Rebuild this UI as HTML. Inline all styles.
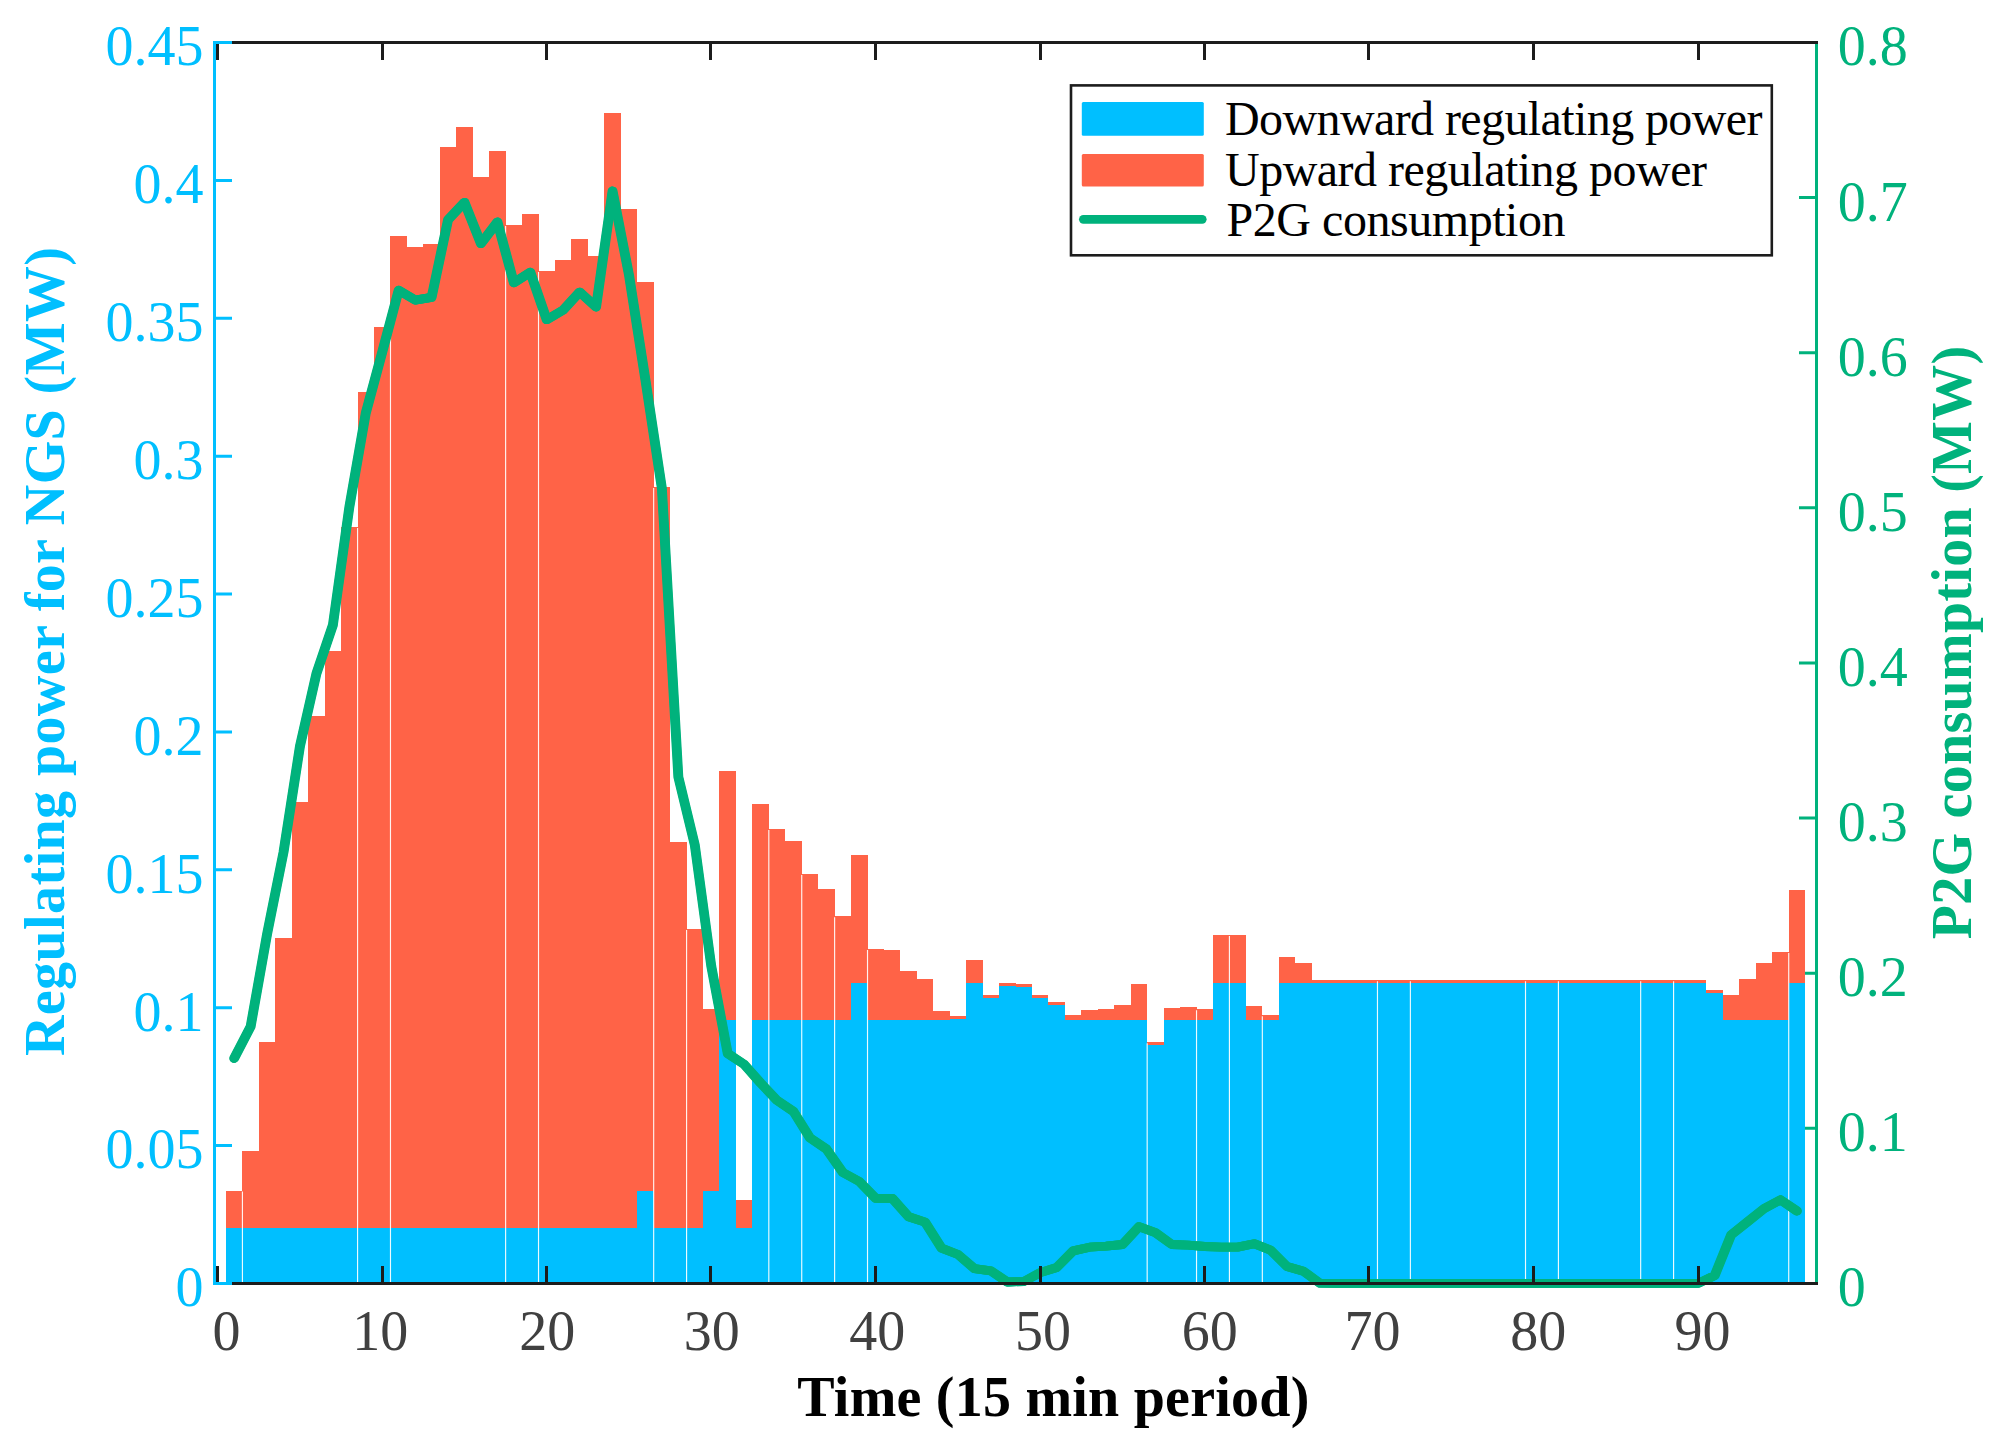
<!DOCTYPE html>
<html lang="en"><head><meta charset="utf-8"><title>Regulating power for NGS and P2G consumption</title>
<style>
html,body{margin:0;padding:0;background:#fff;}
body{width:1997px;height:1445px;overflow:hidden;}
svg{display:block;}
text{font-family:"Liberation Serif",serif;}
.tk{font-size:56px;}
.lb{font-size:56px;font-weight:bold;}
.lg{font-size:48px;fill:#000;}
</style></head><body>
<svg width="1997" height="1445" viewBox="0 0 1997 1445" role="img" aria-label="Regulating power for NGS and P2G consumption over 96 fifteen-minute periods">
<rect x="0" y="0" width="1997" height="1445" fill="#fff"/>
<g stroke="#00B27C" stroke-width="3" fill="none">
<path d="M1816.5 41V1284.9"/>
<path d="M1816.5 1283.4H1799M1816.5 1128.29H1799M1816.5 973.18H1799M1816.5 818.06H1799M1816.5 662.95H1799M1816.5 507.84H1799M1816.5 352.73H1799M1816.5 197.61H1799M1816.5 42.5H1799"/>
</g>
<g shape-rendering="crispEdges">
<path fill="#FF6347" d="M225.97 1190.5H242.43V1228.3H225.97ZM242.43 1151H258.88V1228.3H242.43ZM258.88 1041.9H275.32V1228.3H258.88ZM275.32 938.1H291.77V1228.3H275.32ZM291.77 801.9H308.23V1228.3H291.77ZM308.23 715.9H324.68V1228.3H308.23ZM324.68 651.2H341.12V1228.3H324.68ZM341.12 527H357.57V1228.3H341.12ZM357.57 392H374.02V1228.3H357.57ZM374.02 326.9H390.48V1228.3H374.02ZM390.48 236.1H406.92V1228.3H390.48ZM406.92 246.9H423.38V1228.3H406.92ZM423.38 243.9H439.82V1228.3H423.38ZM439.82 147.1H456.27V1228.3H439.82ZM456.27 127H472.73V1228.3H456.27ZM472.73 177H489.18V1228.3H472.73ZM489.18 151.2H505.62V1228.3H489.18ZM505.62 224.9H522.08V1228.3H505.62ZM522.08 213.9H538.52V1228.3H522.08ZM538.52 270.9H554.97V1228.3H538.52ZM554.97 259.9H571.42V1228.3H554.97ZM571.42 239H587.88V1228.3H571.42ZM587.88 256.1H604.33V1228.3H587.88ZM604.33 113H620.77V1228.3H604.33ZM620.77 208.9H637.22V1228.3H620.77ZM637.22 282H653.67V1190.6H637.22ZM653.67 487.1H670.12V1228.3H653.67ZM670.12 842.4H686.58V1228.3H670.12ZM686.58 929.1H703.02V1228.3H686.58ZM703.02 1009H719.47V1190.6H703.02ZM719.47 771.1H735.92V1019.8H719.47ZM735.92 1200H752.38V1228.3H735.92ZM752.38 804.2H768.82V1019.8H752.38ZM768.82 829.1H785.27V1019.8H768.82ZM785.27 841H801.73V1019.8H785.27ZM801.73 874.1H818.17V1019.8H801.73ZM818.17 888.9H834.62V1019.8H818.17ZM834.62 916.2H851.07V1019.8H834.62ZM851.07 855.2H867.52V982.6H851.07ZM867.52 949.1H883.98V1019.8H867.52ZM883.98 950.1H900.42V1019.8H883.98ZM900.42 971.2H916.88V1019.8H900.42ZM916.88 979H933.32V1019.8H916.88ZM933.32 1011.2H949.77V1019.8H933.32ZM949.77 1016.3H966.23V1019H949.77ZM966.23 960.1H982.67V982.6H966.23ZM982.67 995.1H999.12V997.9H982.67ZM999.12 983.1H1015.57V985.7H999.12ZM1015.57 984.1H1032.03V986.9H1015.57ZM1032.03 995.1H1048.47V997.9H1032.03ZM1048.47 1002.2H1064.92V1004.8H1048.47ZM1064.92 1015.2H1081.38V1019.8H1064.92ZM1081.38 1010.2H1097.82V1019.8H1081.38ZM1097.82 1009.2H1114.28V1019.8H1097.82ZM1114.28 1005.2H1130.72V1019.8H1114.28ZM1130.72 984.1H1147.17V1019.8H1130.72ZM1147.17 1042.2H1163.62V1044.6H1147.17ZM1163.62 1008.2H1180.07V1019.8H1163.62ZM1180.07 1007.2H1196.53V1019.8H1180.07ZM1196.53 1009.2H1212.97V1019.8H1196.53ZM1212.97 935.1H1229.42V982.6H1212.97ZM1229.42 935.1H1245.88V982.6H1229.42ZM1245.88 1006.2H1262.33V1019.8H1245.88ZM1262.33 1015.2H1278.77V1019.8H1262.33ZM1278.77 957.1H1295.22V982.6H1278.77ZM1295.22 963.1H1311.67V982.6H1295.22ZM1311.67 980.2H1328.12V982.8H1311.67ZM1328.12 980.2H1344.58V982.8H1328.12ZM1344.58 980.2H1361.02V982.8H1344.58ZM1361.02 980.2H1377.47V982.8H1361.02ZM1377.47 980.2H1393.92V982.8H1377.47ZM1393.92 980.2H1410.38V982.8H1393.92ZM1410.38 980.2H1426.83V982.8H1410.38ZM1426.83 980.2H1443.27V982.8H1426.83ZM1443.27 980.2H1459.72V982.8H1443.27ZM1459.72 980.2H1476.17V982.8H1459.72ZM1476.17 980.2H1492.62V982.8H1476.17ZM1492.62 980.2H1509.08V982.8H1492.62ZM1509.08 980.2H1525.52V982.8H1509.08ZM1525.52 980.2H1541.97V982.8H1525.52ZM1541.97 980.2H1558.42V982.8H1541.97ZM1558.42 980.2H1574.88V982.8H1558.42ZM1574.88 980.2H1591.33V982.8H1574.88ZM1591.33 980.2H1607.77V982.8H1591.33ZM1607.77 980.2H1624.22V982.8H1607.77ZM1624.22 980.2H1640.67V982.8H1624.22ZM1640.67 980.2H1657.12V982.8H1640.67ZM1657.12 980.2H1673.58V982.8H1657.12ZM1673.58 980.2H1690.02V982.8H1673.58ZM1690.02 980.2H1706.47V982.8H1690.02ZM1706.47 990H1722.92V992.7H1706.47ZM1722.92 995.3H1739.38V1019.8H1722.92ZM1739.38 979.2H1755.83V1019.8H1739.38ZM1755.83 963.2H1772.27V1019.8H1755.83ZM1772.27 952.1H1788.72V1019.8H1772.27ZM1788.72 890H1805.17V982.6H1788.72Z"/>
<path fill="#00BFFF" d="M225.97 1228.3H242.43V1283.4H225.97ZM242.43 1228.3H258.88V1283.4H242.43ZM258.88 1228.3H275.32V1283.4H258.88ZM275.32 1228.3H291.77V1283.4H275.32ZM291.77 1228.3H308.23V1283.4H291.77ZM308.23 1228.3H324.68V1283.4H308.23ZM324.68 1228.3H341.12V1283.4H324.68ZM341.12 1228.3H357.57V1283.4H341.12ZM357.57 1228.3H374.02V1283.4H357.57ZM374.02 1228.3H390.48V1283.4H374.02ZM390.48 1228.3H406.92V1283.4H390.48ZM406.92 1228.3H423.38V1283.4H406.92ZM423.38 1228.3H439.82V1283.4H423.38ZM439.82 1228.3H456.27V1283.4H439.82ZM456.27 1228.3H472.73V1283.4H456.27ZM472.73 1228.3H489.18V1283.4H472.73ZM489.18 1228.3H505.62V1283.4H489.18ZM505.62 1228.3H522.08V1283.4H505.62ZM522.08 1228.3H538.52V1283.4H522.08ZM538.52 1228.3H554.97V1283.4H538.52ZM554.97 1228.3H571.42V1283.4H554.97ZM571.42 1228.3H587.88V1283.4H571.42ZM587.88 1228.3H604.33V1283.4H587.88ZM604.33 1228.3H620.77V1283.4H604.33ZM620.77 1228.3H637.22V1283.4H620.77ZM637.22 1190.6H653.67V1283.4H637.22ZM653.67 1228.3H670.12V1283.4H653.67ZM670.12 1228.3H686.58V1283.4H670.12ZM686.58 1228.3H703.02V1283.4H686.58ZM703.02 1190.6H719.47V1283.4H703.02ZM719.47 1019.8H735.92V1283.4H719.47ZM735.92 1228.3H752.38V1283.4H735.92ZM752.38 1019.8H768.82V1283.4H752.38ZM768.82 1019.8H785.27V1283.4H768.82ZM785.27 1019.8H801.73V1283.4H785.27ZM801.73 1019.8H818.17V1283.4H801.73ZM818.17 1019.8H834.62V1283.4H818.17ZM834.62 1019.8H851.07V1283.4H834.62ZM851.07 982.6H867.52V1283.4H851.07ZM867.52 1019.8H883.98V1283.4H867.52ZM883.98 1019.8H900.42V1283.4H883.98ZM900.42 1019.8H916.88V1283.4H900.42ZM916.88 1019.8H933.32V1283.4H916.88ZM933.32 1019.8H949.77V1283.4H933.32ZM949.77 1019H966.23V1283.4H949.77ZM966.23 982.6H982.67V1283.4H966.23ZM982.67 997.9H999.12V1283.4H982.67ZM999.12 985.7H1015.57V1283.4H999.12ZM1015.57 986.9H1032.03V1283.4H1015.57ZM1032.03 997.9H1048.47V1283.4H1032.03ZM1048.47 1004.8H1064.92V1283.4H1048.47ZM1064.92 1019.8H1081.38V1283.4H1064.92ZM1081.38 1019.8H1097.82V1283.4H1081.38ZM1097.82 1019.8H1114.28V1283.4H1097.82ZM1114.28 1019.8H1130.72V1283.4H1114.28ZM1130.72 1019.8H1147.17V1283.4H1130.72ZM1147.17 1044.6H1163.62V1283.4H1147.17ZM1163.62 1019.8H1180.07V1283.4H1163.62ZM1180.07 1019.8H1196.53V1283.4H1180.07ZM1196.53 1019.8H1212.97V1283.4H1196.53ZM1212.97 982.6H1229.42V1283.4H1212.97ZM1229.42 982.6H1245.88V1283.4H1229.42ZM1245.88 1019.8H1262.33V1283.4H1245.88ZM1262.33 1019.8H1278.77V1283.4H1262.33ZM1278.77 982.6H1295.22V1283.4H1278.77ZM1295.22 982.6H1311.67V1283.4H1295.22ZM1311.67 982.8H1328.12V1283.4H1311.67ZM1328.12 982.8H1344.58V1283.4H1328.12ZM1344.58 982.8H1361.02V1283.4H1344.58ZM1361.02 982.8H1377.47V1283.4H1361.02ZM1377.47 982.8H1393.92V1283.4H1377.47ZM1393.92 982.8H1410.38V1283.4H1393.92ZM1410.38 982.8H1426.83V1283.4H1410.38ZM1426.83 982.8H1443.27V1283.4H1426.83ZM1443.27 982.8H1459.72V1283.4H1443.27ZM1459.72 982.8H1476.17V1283.4H1459.72ZM1476.17 982.8H1492.62V1283.4H1476.17ZM1492.62 982.8H1509.08V1283.4H1492.62ZM1509.08 982.8H1525.52V1283.4H1509.08ZM1525.52 982.8H1541.97V1283.4H1525.52ZM1541.97 982.8H1558.42V1283.4H1541.97ZM1558.42 982.8H1574.88V1283.4H1558.42ZM1574.88 982.8H1591.33V1283.4H1574.88ZM1591.33 982.8H1607.77V1283.4H1591.33ZM1607.77 982.8H1624.22V1283.4H1607.77ZM1624.22 982.8H1640.67V1283.4H1624.22ZM1640.67 982.8H1657.12V1283.4H1640.67ZM1657.12 982.8H1673.58V1283.4H1657.12ZM1673.58 982.8H1690.02V1283.4H1673.58ZM1690.02 982.8H1706.47V1283.4H1690.02ZM1706.47 992.7H1722.92V1283.4H1706.47ZM1722.92 1019.8H1739.38V1283.4H1722.92ZM1739.38 1019.8H1755.83V1283.4H1739.38ZM1755.83 1019.8H1772.27V1283.4H1755.83ZM1772.27 1019.8H1788.72V1283.4H1772.27ZM1788.72 982.6H1805.17V1283.4H1788.72Z"/>
</g>
<path d="M242.43 1191.5V1282.4M357.57 528V1282.4M390.48 327.9V1282.4M505.62 225.9V1282.4M538.52 271.9V1282.4M653.67 488.1V1282.4M686.58 930.1V1282.4M768.82 830.1V1282.4M801.73 875.1V1282.4M834.62 917.2V1282.4M867.52 950.1V1282.4M1147.17 1043.2V1282.4M1196.53 1010.2V1282.4M1229.42 936.1V1282.4M1262.33 1016.2V1282.4M1377.47 981.2V1282.4M1410.38 981.2V1282.4M1525.52 981.2V1282.4M1558.42 981.2V1282.4M1640.67 981.2V1282.4M1673.58 981.2V1282.4M1788.72 953.1V1282.4" stroke="#fff" stroke-opacity="0.92" stroke-width="1.15" fill="none"/>
<g fill="none" stroke="#00B27C" stroke-width="8.8" stroke-linejoin="round" stroke-linecap="round">
<polyline points="234.2,1058.3 250.65,1026.5 267.1,934 283.55,852 300,746 316.45,673.5 332.9,625 349.35,507 365.8,413 382.25,352 398.7,290.2 415.15,300.1 431.6,297.4 448.05,219.8 464.5,202.3 480.95,243.6 497.4,222 513.85,282.8 530.3,272.2 546.75,319.7 563.2,310 579.65,292.1 596.1,307 612.55,191 629,275 645.45,380 661.9,488.5 678.35,777 694.8,845 711.25,966 727.7,1053.5 744.15,1064.4 760.6,1083 777.05,1100.4 793.5,1111.5 809.95,1137.9 826.4,1149 842.85,1172.5 859.3,1181.5 875.75,1198.3 892.2,1198.3 908.65,1216.7 925.1,1222.1 941.55,1248.2 958,1254.5 974.45,1268.6 990.9,1270.8 1007.35,1282 1023.8,1281.5 1040.25,1272.6 1056.7,1267.5 1073.15,1250.9 1089.6,1247.2 1106.05,1246.1 1122.5,1244.5 1138.95,1226.7 1155.4,1232.6 1171.85,1244.5 1188.3,1245.1 1204.75,1246.5 1221.2,1247.1 1237.65,1247.1 1254.1,1243.7 1270.55,1250.1 1287,1266.5 1303.45,1271.2 1319.9,1283.2 1336.35,1283.4 1352.8,1283.4 1369.25,1283.4 1385.7,1283.4 1402.15,1283.4 1418.6,1283.4 1435.05,1283.4 1451.5,1283.4 1467.95,1283.4 1484.4,1283.4 1500.85,1283.4 1517.3,1283.4 1533.75,1283.4 1550.2,1283.4 1566.65,1283.4 1583.1,1283.4 1599.55,1283.4 1616,1283.4 1632.45,1283.4 1648.9,1283.4 1665.35,1283.4 1681.8,1283.4 1698.25,1283.4 1714.7,1275.5 1731.15,1234.9 1747.6,1221.8 1764.05,1208.6 1780.5,1199.8 1796.95,1211"/>
<polyline transform="translate(-0.55 0)" points="234.2,1058.3 250.65,1026.5 267.1,934 283.55,852 300,746 316.45,673.5 332.9,625 349.35,507 365.8,413 382.25,352 398.7,290.2 415.15,300.1 431.6,297.4 448.05,219.8 464.5,202.3 480.95,243.6 497.4,222 513.85,282.8 530.3,272.2 546.75,319.7 563.2,310 579.65,292.1 596.1,307 612.55,191 629,275 645.45,380 661.9,488.5 678.35,777 694.8,845 711.25,966 727.7,1053.5 744.15,1064.4 760.6,1083 777.05,1100.4 793.5,1111.5 809.95,1137.9 826.4,1149 842.85,1172.5 859.3,1181.5 875.75,1198.3 892.2,1198.3 908.65,1216.7 925.1,1222.1 941.55,1248.2 958,1254.5 974.45,1268.6 990.9,1270.8 1007.35,1282 1023.8,1281.5 1040.25,1272.6 1056.7,1267.5 1073.15,1250.9 1089.6,1247.2 1106.05,1246.1 1122.5,1244.5 1138.95,1226.7 1155.4,1232.6 1171.85,1244.5 1188.3,1245.1 1204.75,1246.5 1221.2,1247.1 1237.65,1247.1 1254.1,1243.7 1270.55,1250.1 1287,1266.5 1303.45,1271.2 1319.9,1283.2 1336.35,1283.4 1352.8,1283.4 1369.25,1283.4 1385.7,1283.4 1402.15,1283.4 1418.6,1283.4 1435.05,1283.4 1451.5,1283.4 1467.95,1283.4 1484.4,1283.4 1500.85,1283.4 1517.3,1283.4 1533.75,1283.4 1550.2,1283.4 1566.65,1283.4 1583.1,1283.4 1599.55,1283.4 1616,1283.4 1632.45,1283.4 1648.9,1283.4 1665.35,1283.4 1681.8,1283.4 1698.25,1283.4 1714.7,1275.5 1731.15,1234.9 1747.6,1221.8 1764.05,1208.6 1780.5,1199.8 1796.95,1211"/>
<polyline transform="translate(0.55 0)" points="234.2,1058.3 250.65,1026.5 267.1,934 283.55,852 300,746 316.45,673.5 332.9,625 349.35,507 365.8,413 382.25,352 398.7,290.2 415.15,300.1 431.6,297.4 448.05,219.8 464.5,202.3 480.95,243.6 497.4,222 513.85,282.8 530.3,272.2 546.75,319.7 563.2,310 579.65,292.1 596.1,307 612.55,191 629,275 645.45,380 661.9,488.5 678.35,777 694.8,845 711.25,966 727.7,1053.5 744.15,1064.4 760.6,1083 777.05,1100.4 793.5,1111.5 809.95,1137.9 826.4,1149 842.85,1172.5 859.3,1181.5 875.75,1198.3 892.2,1198.3 908.65,1216.7 925.1,1222.1 941.55,1248.2 958,1254.5 974.45,1268.6 990.9,1270.8 1007.35,1282 1023.8,1281.5 1040.25,1272.6 1056.7,1267.5 1073.15,1250.9 1089.6,1247.2 1106.05,1246.1 1122.5,1244.5 1138.95,1226.7 1155.4,1232.6 1171.85,1244.5 1188.3,1245.1 1204.75,1246.5 1221.2,1247.1 1237.65,1247.1 1254.1,1243.7 1270.55,1250.1 1287,1266.5 1303.45,1271.2 1319.9,1283.2 1336.35,1283.4 1352.8,1283.4 1369.25,1283.4 1385.7,1283.4 1402.15,1283.4 1418.6,1283.4 1435.05,1283.4 1451.5,1283.4 1467.95,1283.4 1484.4,1283.4 1500.85,1283.4 1517.3,1283.4 1533.75,1283.4 1550.2,1283.4 1566.65,1283.4 1583.1,1283.4 1599.55,1283.4 1616,1283.4 1632.45,1283.4 1648.9,1283.4 1665.35,1283.4 1681.8,1283.4 1698.25,1283.4 1714.7,1275.5 1731.15,1234.9 1747.6,1221.8 1764.05,1208.6 1780.5,1199.8 1796.95,1211"/>
</g>
<g stroke="#1c1c1c" stroke-width="3" fill="none">
<path d="M214.5 42.5H1818 M214.5 1283.4H1818"/>
<path d="M217.5 42.5V60M217.5 1283.4V1265.9M382.5 42.5V60M382.5 1283.4V1265.9M546.5 42.5V60M546.5 1283.4V1265.9M710.5 42.5V60M710.5 1283.4V1265.9M875.5 42.5V60M875.5 1283.4V1265.9M1040.5 42.5V60M1040.5 1283.4V1265.9M1204.5 42.5V60M1204.5 1283.4V1265.9M1368.5 42.5V60M1368.5 1283.4V1265.9M1533.5 42.5V60M1533.5 1283.4V1265.9M1698.5 42.5V60M1698.5 1283.4V1265.9"/>
</g>
<g stroke="#00BFFF" stroke-width="3" fill="none">
<path d="M214.5 41V1284.9"/>
<path d="M214.5 1283.4H232M214.5 1145.52H232M214.5 1007.64H232M214.5 869.77H232M214.5 731.89H232M214.5 594.01H232M214.5 456.13H232M214.5 318.26H232M214.5 180.38H232M214.5 42.5H232"/>
</g>
<g class="tk" fill="#00BFFF" text-anchor="end">
<text x="203.6" y="1306.3">0</text>
<text x="203.6" y="1168.42">0.05</text>
<text x="203.6" y="1030.54">0.1</text>
<text x="203.6" y="892.67">0.15</text>
<text x="203.6" y="754.79">0.2</text>
<text x="203.6" y="616.91">0.25</text>
<text x="203.6" y="479.03">0.3</text>
<text x="203.6" y="341.16">0.35</text>
<text x="203.6" y="203.28">0.4</text>
<text x="203.6" y="65.4">0.45</text>
</g>
<g class="tk" fill="#00B27C" text-anchor="start">
<text x="1837.8" y="1306.3">0</text>
<text x="1837.8" y="1151.19">0.1</text>
<text x="1837.8" y="996.08">0.2</text>
<text x="1837.8" y="840.96">0.3</text>
<text x="1837.8" y="685.85">0.4</text>
<text x="1837.8" y="530.74">0.5</text>
<text x="1837.8" y="375.62">0.6</text>
<text x="1837.8" y="220.51">0.7</text>
<text x="1837.8" y="65.4">0.8</text>
</g>
<g class="tk" fill="#404040" text-anchor="middle">
<text x="226.55" y="1350.4">0</text>
<text x="380.15" y="1350.4">10</text>
<text x="547.25" y="1350.4">20</text>
<text x="711.65" y="1350.4">30</text>
<text x="877.25" y="1350.4">40</text>
<text x="1042.95" y="1350.4">50</text>
<text x="1209.65" y="1350.4">60</text>
<text x="1372.55" y="1350.4">70</text>
<text x="1538.25" y="1350.4">80</text>
<text x="1702.45" y="1350.4">90</text>
</g>
<text class="lb" fill="#000" x="797.3" y="1415.6" textLength="512" lengthAdjust="spacing">Time (15 min period)</text>
<text class="lb" fill="#00BFFF" transform="translate(64.3 1056) rotate(-90)" textLength="809" lengthAdjust="spacing">Regulating power for NGS (MW)</text>
<text class="lb" fill="#00B27C" transform="translate(1971.2 939.3) rotate(-90)" textLength="593.5" lengthAdjust="spacing">P2G consumption (MW)</text>
<rect x="1071" y="85.4" width="700.8" height="169.9" fill="#fff" stroke="#1c1c1c" stroke-width="2.6"/>
<rect x="1081.8" y="102.1" width="122" height="33.6" rx="1.5" fill="#00BFFF"/>
<rect x="1081.8" y="153.9" width="122" height="32.7" rx="1.5" fill="#FF6347"/>
<path d="M1083.4 219.3H1202.2" stroke="#00B27C" stroke-width="8.8" stroke-linecap="round" fill="none"/>
<text class="lg" x="1225" y="135.1" textLength="537.5" lengthAdjust="spacing">Downward regulating power</text>
<text class="lg" x="1225" y="185.8" textLength="482" lengthAdjust="spacing">Upward regulating power</text>
<text class="lg" x="1226.5" y="235.9" textLength="339" lengthAdjust="spacing">P2G consumption</text>
</svg>
</body></html>
